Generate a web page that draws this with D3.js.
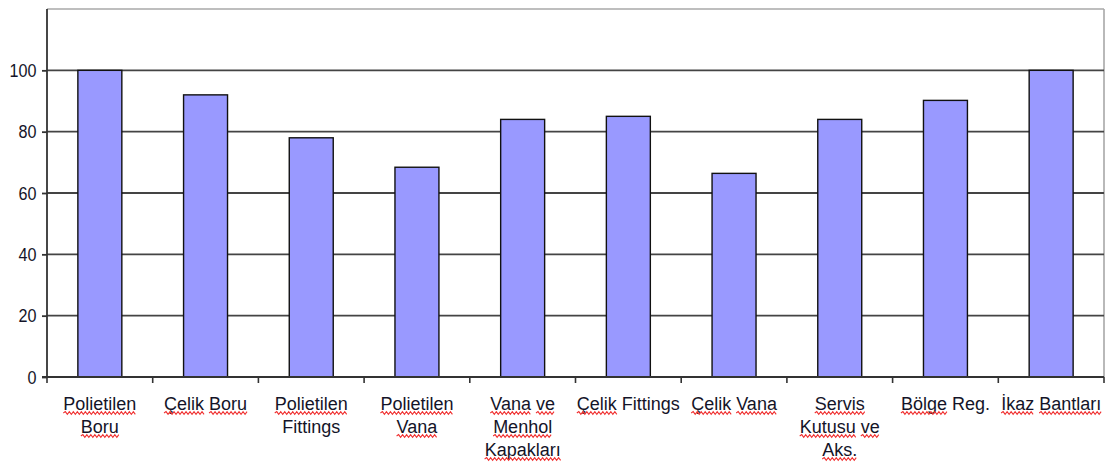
<!DOCTYPE html>
<html><head><meta charset="utf-8">
<script src="https://cdn.jsdelivr.net/npm/d3@7/dist/d3.min.js"></script>
<style>body{margin:0;background:#fff}svg{display:block}</style>
</head><body><svg id="c" width="1107" height="464"></svg>
<script>
const categories = ["Polietilen\nBoru","Çelik Boru","Polietilen\nFittings","Polietilen\nVana","Vana ve\nMenhol\nKapakları","Çelik Fittings","Çelik Vana","Servis\nKutusu ve\nAks.","Bölge Reg.","İkaz Bantları"];
const values = [100, 92, 78, 68.4, 84, 85, 66.4, 84, 90.2, 100];
const yTicks = [0, 20, 40, 60, 80, 100];
const notUnderlined = ["Fittings", "Reg."];

const svg = d3.select("#c");
const L = 47, R = 1104, T = 9, B = 377;
const FONT = "Liberation Sans, Arial, sans-serif";
const x = d3.scaleBand().domain(categories).range([L, R]).paddingInner(0.584).paddingOuter(0.292);
const y = d3.scaleLinear().domain([0, 120]).range([B, T]);
const step = x.step();

// border top & right
svg.append("line").attr("x1", L).attr("x2", R).attr("y1", T).attr("y2", T).attr("stroke", "#a8a8a8").attr("stroke-width", 1.6);
svg.append("line").attr("x1", R).attr("x2", R).attr("y1", T).attr("y2", B).attr("stroke", "#a8a8a8").attr("stroke-width", 1.6);

// gridlines
svg.append("g").selectAll("line").data(yTicks.filter(d => d > 0)).join("line")
  .attr("x1", L).attr("x2", R).attr("y1", d => y(d)).attr("y2", d => y(d))
  .attr("stroke", "#444").attr("stroke-width", 1.8);

// bars
svg.append("g").selectAll("rect").data(categories).join("rect")
  .attr("x", d => x(d)).attr("width", x.bandwidth())
  .attr("y", (d, i) => y(values[i])).attr("height", (d, i) => B - y(values[i]))
  .attr("fill", "#9999ff").attr("stroke", "#111").attr("stroke-width", 1.4);

// y axis
const yAxis = svg.append("g").attr("transform", `translate(${L},0)`)
  .call(d3.axisLeft(y).tickValues(yTicks).tickSize(5).tickPadding(6));
yAxis.select(".domain").attr("stroke", "#333").attr("stroke-width", 1.8).attr("d", `M-5,${B}H0V${T}`);
yAxis.selectAll(".tick line").attr("stroke", "#333").attr("stroke-width", 1.8);
yAxis.selectAll(".tick text").attr("font-family", FONT).attr("font-size", 17).attr("fill", "#141428")
  .attr("transform", "scale(1,1.08)").attr("y", function(){ return 0; })
  .attr("dy", "0.32em");
yAxis.selectAll(".tick text").each(function(){
  const g = d3.select(this.parentNode);
  const tr = g.attr("transform"); // translate(0,yy)
  const yy = +tr.match(/,([\d.\-]+)/)[1];
  g.attr("transform", `translate(0,${yy})`);
  d3.select(this).attr("transform", "scale(0.95,1.12)");
});

// x axis
svg.append("line").attr("x1", L).attr("x2", R).attr("y1", B).attr("y2", B).attr("stroke", "#333").attr("stroke-width", 1.8);
svg.append("g").selectAll("line").data(d3.range(categories.length + 1)).join("line")
  .attr("x1", i => L + i * step).attr("x2", i => L + i * step)
  .attr("y1", B).attr("y2", B + 6).attr("stroke", "#333").attr("stroke-width", 1.6);

// x labels
function wavy(x0, x1, yy) {
  let p = `M${x0},${yy}`; let up = true;
  for (let xx = x0 + 2; xx <= x1 + 0.5; xx += 2) { p += `L${xx},${yy + (up ? -1.4 : 1.4)}`; up = !up; }
  return p;
}
const lab = svg.append("g");
categories.forEach(cat => {
  const cx = x(cat) + x.bandwidth() / 2;
  cat.split("\n").forEach((line, li) => {
    const by = 410 + li * 23;
    const t = lab.append("text").attr("x", cx).attr("y", by).attr("text-anchor", "middle")
      .attr("font-family", FONT).attr("font-size", 18).attr("fill", "#141428")
      .text(line);
    const node = t.node();
    const bb = node.getBBox();
    let idx = 0;
    line.split(" ").forEach(w => {
      const start = line.indexOf(w, idx);
      idx = start + w.length;
      if (notUnderlined.includes(w)) return;
      const off = start > 0 ? node.getSubStringLength(0, start) : 0;
      const wl = node.getSubStringLength(start, w.length);
      lab.append("path").attr("d", wavy(bb.x + off, bb.x + off + wl, by + 3))
        .attr("fill", "none").attr("stroke", "#f03030").attr("stroke-width", 1.1);
    });
  });
});
</script></body></html>
